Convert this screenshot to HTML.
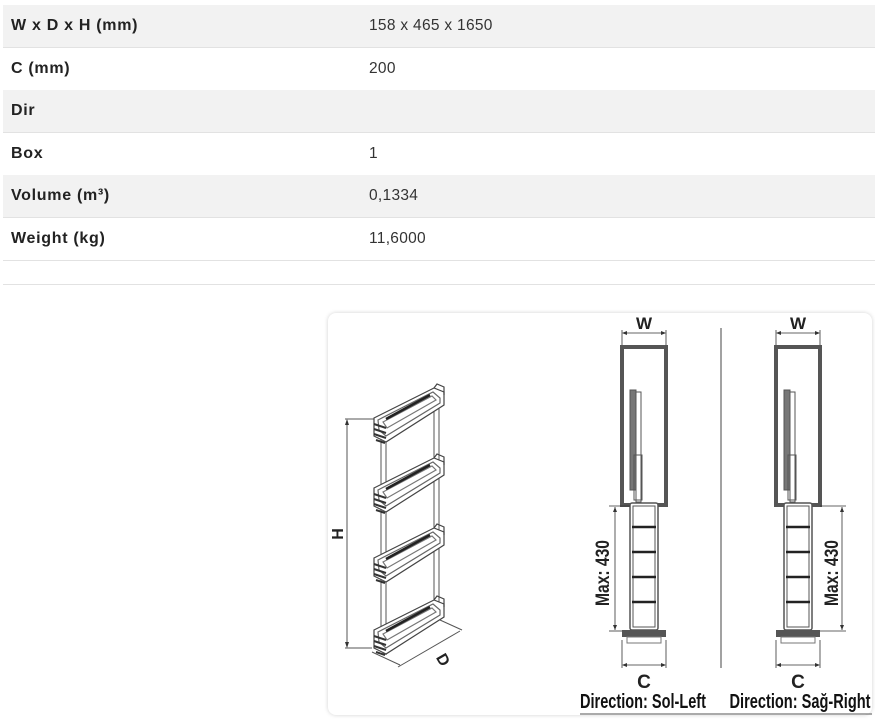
<!DOCTYPE html>
<html><head><meta charset="utf-8"><style>
html,body{margin:0;padding:0;background:#fff;width:875px;height:719px;overflow:hidden;font-family:"Liberation Sans",sans-serif;}
.row{position:absolute;left:3px;width:872px;height:42px;border-bottom:1px solid #e2e2e2;}
.g{background:#f2f2f2;}
.k{position:absolute;left:8px;top:0;line-height:42px;font-weight:bold;font-size:16px;letter-spacing:0.7px;color:#222;}
.v{position:absolute;left:366px;top:0;line-height:42px;font-size:15.5px;letter-spacing:0.3px;color:#333;}
.card{position:absolute;left:328px;top:313px;width:544px;height:402px;border-radius:8px;background:#fff;box-shadow:0 0 4px rgba(0,0,0,0.18);}
svg{position:absolute;left:0;top:0;}
</style></head><body>
<div class="row g" style="top:5px"><span class="k">W x D x H (mm)</span><span class="v">158 x 465 x 1650</span></div>
<div class="row" style="top:48px"><span class="k">C (mm)</span><span class="v">200</span></div>
<div class="row g" style="top:90px"><span class="k">Dir</span></div>
<div class="row" style="top:133px"><span class="k">Box</span><span class="v">1</span></div>
<div class="row g" style="top:175px"><span class="k">Volume (m³)</span><span class="v">0,1334</span></div>
<div class="row" style="top:218px"><span class="k">Weight (kg)</span><span class="v">11,6000</span></div>
<div style="position:absolute;left:3px;top:284px;width:872px;height:1px;background:#e2e2e2"></div>
<div class="card"></div>
<svg width="875" height="719" viewBox="0 0 875 719">
<defs>
<g id="bk" fill="none" stroke="#444" stroke-width="1.2">
<polygon points="374,418 434,388 444,392 444,405 386,442 374,436" fill="#fff"/>
<polygon points="378,420 433,392 440,398 440,403 386,436 379,430" stroke="#666"/>
<polygon points="383,422 432,396 436,400 387,428" stroke="#777"/>
<line x1="386" y1="419" x2="430" y2="395" stroke="#222" stroke-width="2.5"/>
<path d="M374,424 l12,4 M374,429 l12,4 M374,434 l12,4 M376,440 l9,3" stroke="#333" stroke-width="2"/>
<path d="M434,388 l3,-4 l7,3 l0,8"/>
</g>
<g id="cab">
<rect x="622" y="347" width="44" height="158" fill="none" stroke="#555" stroke-width="4"/>
<rect x="620" y="345" width="48" height="3" fill="#555"/>
<g fill="none" stroke="#555" stroke-width="1">
<rect x="630" y="390" width="6" height="100" fill="#777"/>
<rect x="636" y="392" width="5" height="110"/>
<rect x="634" y="455" width="8" height="45"/>
<rect x="630" y="503" width="28" height="127" rx="2" fill="#fff" stroke-width="1.5"/>
<rect x="633" y="506" width="22" height="121"/>
</g>
<g stroke="#222" stroke-width="2.5"><line x1="632" y1="527" x2="656" y2="527"/><line x1="632" y1="552" x2="656" y2="552"/><line x1="632" y1="577" x2="656" y2="577"/><line x1="632" y1="602" x2="656" y2="602"/></g>
<rect x="622" y="630" width="44" height="7" fill="#555"/>
<rect x="627" y="637" width="34" height="6" fill="none" stroke="#777"/>
<g stroke="#333" stroke-width="0.8" fill="none">
<line x1="622" y1="330" x2="622" y2="345"/><line x1="666" y1="330" x2="666" y2="345"/>
<line x1="623" y1="333" x2="665" y2="333"/>
<line x1="622" y1="640" x2="622" y2="668"/><line x1="666" y1="640" x2="666" y2="668"/>
<line x1="623" y1="665" x2="665" y2="665"/>
</g>
<g fill="#333"><polygon points="622,333 627,331 627,335"/><polygon points="666,333 661,331 661,335"/><polygon points="622,665 627,663 627,667"/><polygon points="666,665 661,663 661,667"/></g>
<text x="644" y="329" font-family="Liberation Sans Narrow,Liberation Sans,sans-serif" font-weight="bold" font-size="17" text-anchor="middle" fill="#222">W</text>
<text x="644" y="688" font-family="Liberation Sans Narrow,Liberation Sans,sans-serif" font-weight="bold" font-size="19" text-anchor="middle" fill="#222">C</text>
</g>
</defs>
<g stroke="#555" stroke-width="1" fill="none">
<line x1="381" y1="420" x2="381" y2="650"/><line x1="386" y1="425" x2="386" y2="655"/>
<line x1="434" y1="395" x2="434" y2="615"/><line x1="439" y1="393" x2="439" y2="612"/>
<line x1="345" y1="419" x2="375" y2="419"/><line x1="345" y1="648" x2="372" y2="648"/>
<line x1="347" y1="420" x2="347" y2="647"/>
<line x1="372" y1="652" x2="400" y2="665"/><line x1="398" y1="667" x2="460" y2="631"/><line x1="440" y1="620" x2="462" y2="630"/>
</g>
<polygon points="347,419 345,425 349,425" fill="#333"/><polygon points="347,648 345,642 349,642" fill="#333"/>
<use href="#bk"/><use href="#bk" y="70"/><use href="#bk" y="140"/><use href="#bk" y="212"/>
<text x="338" y="534" font-family="Liberation Sans Narrow,Liberation Sans,sans-serif" font-weight="bold" font-size="16" fill="#222" transform="rotate(-90 338 534)" text-anchor="middle" dy="5">H</text>
<text x="440" y="660" font-family="Liberation Sans Narrow,Liberation Sans,sans-serif" font-weight="bold" font-size="16" fill="#222" transform="rotate(60 440 655)">D</text>
<use href="#cab"/>
<use href="#cab" x="154"/>
<line x1="721" y1="328" x2="721" y2="668" stroke="#444" stroke-width="1"/>
<g stroke="#333" stroke-width="0.8"><line x1="615" y1="507" x2="615" y2="630"/><line x1="609" y1="506" x2="630" y2="506"/><line x1="609" y1="631" x2="622" y2="631"/>
<line x1="842" y1="507" x2="842" y2="630"/><line x1="820" y1="506" x2="846" y2="506"/><line x1="820" y1="631" x2="846" y2="631"/></g>
<g fill="#333"><polygon points="615,507 613,512 617,512"/><polygon points="615,630 613,625 617,625"/><polygon points="842,507 840,512 844,512"/><polygon points="842,630 840,625 844,625"/></g>
<text x="603" y="573" font-family="Liberation Sans Narrow,Liberation Sans,sans-serif" font-weight="bold" font-size="19" fill="#222" text-anchor="middle" transform="rotate(-90 603 573)" dy="6" textLength="66" lengthAdjust="spacingAndGlyphs">Max: 430</text>
<text x="832" y="573" font-family="Liberation Sans Narrow,Liberation Sans,sans-serif" font-weight="bold" font-size="19" fill="#222" text-anchor="middle" transform="rotate(-90 832 573)" dy="6" textLength="66" lengthAdjust="spacingAndGlyphs">Max: 430</text>
<text x="643" y="708" font-family="Liberation Sans Narrow,Liberation Sans,sans-serif" font-weight="bold" font-size="20" fill="#111" text-anchor="middle" textLength="126" lengthAdjust="spacingAndGlyphs">Direction: Sol-Left</text>
<text x="800" y="708" font-family="Liberation Sans Narrow,Liberation Sans,sans-serif" font-weight="bold" font-size="20" fill="#111" text-anchor="middle" textLength="141" lengthAdjust="spacingAndGlyphs">Direction: Sağ-Right</text>
<line x1="580" y1="714" x2="872" y2="714" stroke="#555" stroke-width="1"/>
</svg>
</body></html>
